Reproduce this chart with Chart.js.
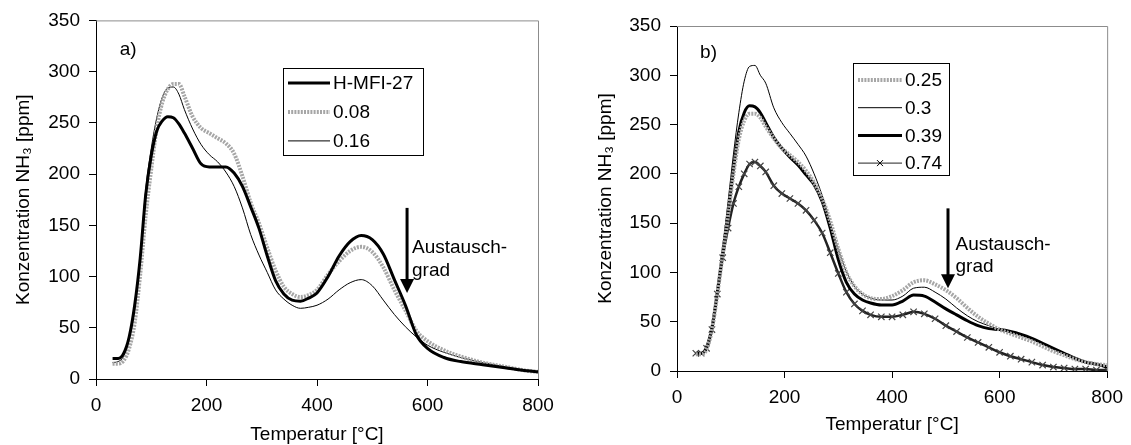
<!DOCTYPE html>
<html>
<head>
<meta charset="utf-8">
<script src="https://cdn.jsdelivr.net/npm/chart.js@4/dist/chart.umd.min.js"></script>
<style>
  html, body { margin: 0; padding: 0; background: #fff; overflow: hidden; }
  #wrap { position: relative; width: 1131px; height: 445px; overflow: hidden; }
  canvas { position: absolute; top: 0; }
</style>
</head>
<body>
<div id="wrap">
  <canvas id="chartA" width="565" height="460" style="left:0"></canvas>
  <canvas id="chartB" width="566" height="460" style="left:565px"></canvas>
</div>
<script>
// ---- data ----
const tempA = [30, 40, 50, 60, 70, 80, 90, 100, 110, 120, 130, 140, 150, 160,
  175, 190, 205, 220, 235, 250, 265, 280, 295, 310, 325, 340, 355, 370, 385, 400,
  420, 440, 460, 480, 500, 520, 540, 560, 580, 600,
  630, 660, 700, 740, 780, 800];
const hmfi27 = [20, 20, 25, 41, 72, 118, 180, 218, 242, 252, 256, 255, 249, 240,
  225, 210, 207, 207, 207, 201, 188, 168, 147, 120, 96, 83, 77, 76, 79, 84,
  100, 120, 134, 140, 136, 122, 97, 72, 43, 30,
  21, 17, 14, 11, 8, 7];
const ex008 = [15, 15, 18, 30, 55, 102, 160, 205, 245, 270, 283, 288, 288, 276,
  256, 245, 240, 235, 230, 220, 198, 172, 152, 128, 106, 90, 83, 80, 82, 87,
  102, 115, 125, 129, 124, 109, 87, 67, 47, 37,
  28, 22, 16, 12, 8, 7];
const ex016 = [16, 17, 22, 38, 68, 120, 185, 225, 255, 275, 284, 285, 278, 263,
  244, 229, 219, 212, 202, 188, 167, 141, 121, 104, 87, 78, 72, 69, 70, 72,
  78, 87, 94, 97, 91, 77, 63, 51, 41, 33,
  26, 21, 16, 12, 8, 6];

const tempB = [35, 45, 55, 65, 75, 85, 95, 105, 115, 125, 135, 145, 155, 165,
  180, 195, 210, 225, 240, 255, 270, 285, 300, 315, 330, 345, 360,
  380, 400, 420, 440, 460, 480, 500, 520, 540, 560, 580, 600, 620, 640, 660, 680,
  700, 720, 740, 760, 780, 800];
const ex025 = [17, 17, 22, 42, 78, 118, 158, 200, 235, 254, 261, 261, 257, 248,
  236, 226, 219, 212, 203, 191, 175, 152, 124, 100, 86, 78, 74,
  73, 76, 82, 90, 92, 88, 82, 74, 64, 55, 48, 42, 38, 34, 30, 25,
  20, 16, 12, 9, 7, 6];
const ex03 = [18, 18, 25, 45, 82, 125, 172, 220, 262, 294, 309, 310, 300, 292,
  267, 252, 241, 230, 218, 200, 178, 150, 123, 101, 86, 78, 74,
  72, 72, 76, 84, 85, 80, 73, 64, 56, 50, 46, 42, 39, 36, 33, 28,
  23, 17, 12, 8, 6, 4];
const ex039 = [18, 18, 24, 44, 80, 120, 160, 205, 243, 262, 269, 268, 262, 252,
  237, 226, 217, 209, 199, 189, 172, 145, 113, 90, 78, 72, 69,
  67, 67, 71, 77, 76, 70, 63, 57, 51, 46, 43, 42, 40, 37, 33, 28,
  23, 18, 13, 9, 7, 4];
const ex074 = [18, 18, 23, 42, 78, 115, 145, 170, 187, 200, 210, 212, 208, 202,
  188, 180, 175, 170, 163, 153, 140, 120, 99, 80, 68, 61, 57,
  55, 55, 57, 60, 58, 53, 46, 40, 34, 29, 24, 19, 15, 12, 9, 6,
  4, 3, 2, 2, 1, 1];

const xTicks = [0, 200, 400, 600, 800];
const yTicks = [0, 50, 100, 150, 200, 250, 300, 350];

const FONT = "'Liberation Sans', Arial, sans-serif";
Chart.defaults.font.family = FONT;
Chart.defaults.font.size = 19;
Chart.defaults.color = '#000';

const pts = (xs, ys) => xs.map((t, i) => ({x: t, y: ys[i]}));

const dotted = {borderColor: '#a6a6a6', borderWidth: 4, borderDash: [2, 1.2]};
const thin = {borderColor: '#000', borderWidth: 1};
const thick = {borderColor: '#000', borderWidth: 3};

// frame, legend box, panel letter and arrow note
const decor = {
  id: 'decor',
  afterDatasetsDraw(chart, args, o) {
    const {ctx, chartArea: a} = chart;
    const x = chart.scales.x, y = chart.scales.y;
    ctx.save();
    ctx.strokeStyle = '#8c8c8c';
    ctx.lineWidth = 1;
    ctx.beginPath();
    ctx.moveTo(a.left, a.top + 0.5);
    ctx.lineTo(a.right + 0.5, a.top + 0.5);
    ctx.lineTo(a.right + 0.5, a.bottom);
    ctx.stroke();

    ctx.fillStyle = '#000';
    ctx.font = '19px ' + FONT;
    ctx.textBaseline = 'middle';
    ctx.fillText(o.panel, x.getPixelForValue(o.panelAt[0]), y.getPixelForValue(o.panelAt[1]));

    // arrow
    const ax = x.getPixelForValue(o.arrow[0]);
    const y0 = y.getPixelForValue(o.arrow[1]);
    const y1 = y.getPixelForValue(o.arrow[2]);
    ctx.strokeStyle = '#000';
    ctx.lineWidth = 3;
    ctx.beginPath();
    ctx.moveTo(ax, y0);
    ctx.lineTo(ax, y1 - 12);
    ctx.stroke();
    ctx.beginPath();
    ctx.moveTo(ax - 7, y1 - 14);
    ctx.lineTo(ax + 7, y1 - 14);
    ctx.lineTo(ax, y1);
    ctx.closePath();
    ctx.fill();
    const tx = x.getPixelForValue(o.noteX);
    o.note.forEach((t, i) => ctx.fillText(t, tx, y.getPixelForValue(o.noteY[i])));

    // legend
    const lg = o.legend;
    const bx = a.left + lg.dx, by = a.top + lg.dy;
    ctx.lineWidth = 1;
    ctx.strokeRect(Math.round(bx) + 0.5, Math.round(by) + 0.5, lg.w, lg.h);
    chart.data.datasets.forEach((ds, i) => {
      const cy = by + lg.first + i * lg.row;
      ctx.save();
      ctx.strokeStyle = ds.borderColor;
      ctx.lineWidth = ds.pointRadius ? 1 : ds.borderWidth;
      ctx.setLineDash(ds.borderDash || []);
      ctx.beginPath();
      ctx.moveTo(bx + 5, cy);
      ctx.lineTo(bx + 5 + lg.sample, cy);
      ctx.stroke();
      ctx.restore();
      if (ds.pointRadius) {
        const mx = bx + 5 + lg.sample / 2, r = 3;
        ctx.lineWidth = 1;
        ctx.beginPath();
        ctx.moveTo(mx - r, cy - r); ctx.lineTo(mx + r, cy + r);
        ctx.moveTo(mx - r, cy + r); ctx.lineTo(mx + r, cy - r);
        ctx.stroke();
      }
      ctx.fillText(ds.label, bx + lg.text, cy + 1);
    });
    ctx.restore();
  }
};

function scales(yPad, xPadBottom, yWidth, xHeight) {
  return {
    x: {
      type: 'linear', min: 0, max: 800,
      afterBuildTicks: s => { s.ticks = xTicks.map(v => ({value: v})); },
      ticks: {padding: 8, maxRotation: 0, color: '#000'},
      grid: {drawOnChartArea: false, tickLength: 7, tickColor: '#000'},
      border: {color: '#000', width: 1},
      title: {display: true, text: 'Temperatur [°C]', padding: {top: 0, bottom: xPadBottom}},
      afterFit: s => { s.height = xHeight; }
    },
    y: {
      type: 'linear', min: 0, max: 350,
      afterBuildTicks: s => { s.ticks = yTicks.map(v => ({value: v})); },
      ticks: {padding: 9, color: '#000'},
      grid: {drawOnChartArea: false, tickLength: 7, tickColor: '#000'},
      border: {color: '#000', width: 1},
      title: {display: true, text: 'Konzentration NH₃ [ppm]', padding: {top: yPad, bottom: 0}},
      afterFit: s => { s.width = yWidth; }
    }
  };
}

const common = {
  responsive: false,
  devicePixelRatio: 1,
  animation: false,
  events: [],
  elements: {point: {radius: 0}, line: {cubicInterpolationMode: 'monotone'}},
  plugins: {legend: {display: false}, tooltip: {enabled: false}}
};

new Chart(document.getElementById('chartA'), {
  type: 'line',
  data: {
    datasets: [
      {label: 'H-MFI-27', data: pts(tempA, hmfi27), ...thick},
      {label: '0.08', data: pts(tempA, ex008), ...dotted},
      {label: '0.16', data: pts(tempA, ex016), ...thin}
    ]
  },
  options: {
    ...common,
    layout: {padding: {left: 0, top: 20, right: 27, bottom: 0}},
    scales: scales(12, 14, 96, 81),
    plugins: {
      ...common.plugins,
      decor: {
        panel: 'a)', panelAt: [43, 321],
        arrow: [563, 167, 84],
        noteX: 572, note: ['Austausch-', 'grad'], noteY: [128, 106],
        legend: {dx: 187, dy: 48, w: 140, h: 87, first: 14.5, row: 29, sample: 42, text: 50}
      }
    }
  },
  plugins: [decor]
});

new Chart(document.getElementById('chartB'), {
  type: 'line',
  data: {
    datasets: [
      {label: '0.25', data: pts(tempB, ex025), ...dotted},
      {label: '0.3', data: pts(tempB, ex03), ...thin},
      {label: '0.39', data: pts(tempB, ex039), ...thick},
      {label: '0.74', data: pts(tempB, ex074), borderColor: '#222', borderWidth: 2.5,
        pointStyle: 'crossRot', pointRadius: 4.5, pointBorderWidth: 1.2, pointBorderColor: '#444'}
    ]
  },
  options: {
    ...common,
    layout: {padding: {left: 0, top: 26, right: 22, bottom: 0}},
    scales: scales(29, 24, 112, 89),
    plugins: {
      ...common.plugins,
      decor: {
        panel: 'b)', panelAt: [43, 323],
        arrow: [504, 165, 84],
        noteX: 518, note: ['Austausch-', 'grad'], noteY: [128, 105.5],
        legend: {dx: 176, dy: 37, w: 96, h: 112, first: 17, row: 27.7, sample: 44, text: 52}
      }
    }
  },
  plugins: [decor]
});
</script>
</body>
</html>
